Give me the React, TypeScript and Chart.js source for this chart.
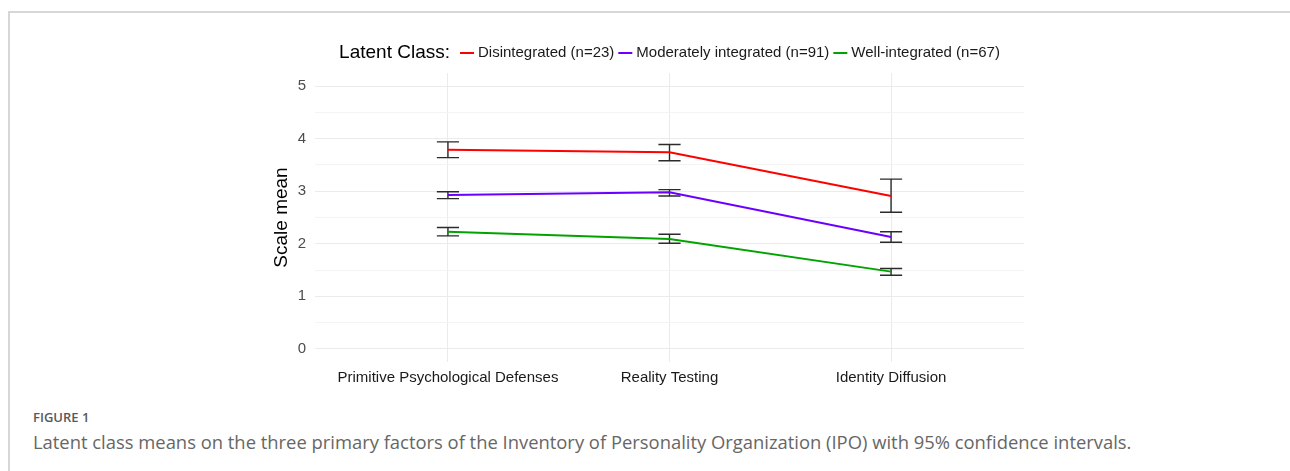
import React, { useEffect, useRef } from "react";
import { Chart, registerables } from "chart.js";

Chart.register(...registerables);

const CATEGORIES = ["Primitive Psychological Defenses", "Reality Testing", "Identity Diffusion"];
const SERIES_LABELS = ["Disintegrated (n=23)", "Moderately integrated (n=91)", "Well-integrated (n=67)"];
const SERIES_COLORS = ["#FF0000", "#6A00FF", "#00A300"];

const DISINTEGRATED_MEAN = [3.79, 3.74, 2.91];
const DISINTEGRATED_LOW = [3.64, 3.58, 2.6];
const DISINTEGRATED_HIGH = [3.94, 3.89, 3.23];

const MODERATE_MEAN = [2.93, 2.98, 2.13];
const MODERATE_LOW = [2.86, 2.91, 2.03];
const MODERATE_HIGH = [2.99, 3.03, 2.23];

const WELL_MEAN = [2.23, 2.09, 1.47];
const WELL_LOW = [2.15, 2.01, 1.4];
const WELL_HIGH = [2.31, 2.18, 1.53];

const Y_TICKS = [0, 0.5, 1, 1.5, 2, 2.5, 3, 3.5, 4, 4.5, 5];
const LEGEND_TITLE = "Latent Class:";
const Y_TITLE = "Scale mean";
const FIGURE_LABEL = "FIGURE 1";
const CAPTION =
  "Latent class means on the three primary factors of the Inventory of Personality Organization (IPO) with 95% confidence intervals.";

const FONT = '"Liberation Sans", Arial, Helvetica, sans-serif';

const MEANS = [DISINTEGRATED_MEAN, MODERATE_MEAN, WELL_MEAN];
const LOWS = [DISINTEGRATED_LOW, MODERATE_LOW, WELL_LOW];
const HIGHS = [DISINTEGRATED_HIGH, MODERATE_HIGH, WELL_HIGH];

const errorBarPlugin = {
  id: "errorBars",
  beforeDatasetsDraw(chart: any) {
    const { ctx, scales } = chart;
    const x = scales.x;
    const y = scales.y;
    ctx.save();
    ctx.strokeStyle = "#2b2b2b";
    ctx.lineWidth = 1.4;
    chart.data.datasets.forEach((ds: any) => {
      ds.errLow.forEach((lo: number, i: number) => {
        const hi = ds.errHigh[i];
        const cx = x.getPixelForValue(i + 1);
        const xl = x.getPixelForValue(i + 1 - 0.05);
        const xr = x.getPixelForValue(i + 1 + 0.05);
        const pLo = y.getPixelForValue(lo);
        const pHi = y.getPixelForValue(hi);
        ctx.beginPath();
        ctx.moveTo(cx, pLo);
        ctx.lineTo(cx, pHi);
        ctx.moveTo(xl, pLo);
        ctx.lineTo(xr, pLo);
        ctx.moveTo(xl, pHi);
        ctx.lineTo(xr, pHi);
        ctx.stroke();
      });
    });
    ctx.restore();
  },
};

const legendPlugin = {
  id: "topLegend",
  afterDraw(chart: any) {
    const { ctx, chartArea } = chart;
    const yc = 53;
    ctx.save();
    ctx.textBaseline = "middle";
    ctx.textAlign = "left";
    ctx.font = `19px ${FONT}`;
    const titleW = ctx.measureText(LEGEND_TITLE).width;
    ctx.font = `15px ${FONT}`;
    const widths = SERIES_LABELS.map((l) => ctx.measureText(l).width);
    const keyW = 14;
    const keyGap = 4;
    const itemGap = 4;
    const titleGap = 10;
    let total = titleW + titleGap;
    widths.forEach((w, i) => {
      total += keyW + keyGap + w + (i < widths.length - 1 ? itemGap : 0);
    });
    let xpos = (chartArea.left + chartArea.right) / 2 - total / 2;
    ctx.fillStyle = "#000";
    ctx.font = `19px ${FONT}`;
    ctx.fillText(LEGEND_TITLE, xpos, yc);
    xpos += titleW + titleGap;
    ctx.font = `15px ${FONT}`;
    SERIES_LABELS.forEach((label, i) => {
      ctx.strokeStyle = SERIES_COLORS[i];
      ctx.lineWidth = 2;
      ctx.beginPath();
      ctx.moveTo(xpos, yc);
      ctx.lineTo(xpos + keyW, yc);
      ctx.stroke();
      xpos += keyW + keyGap;
      ctx.fillStyle = "#1a1a1a";
      ctx.fillText(label, xpos, yc);
      xpos += widths[i] + itemGap;
    });
    ctx.restore();
  },
};

function ChartView() {
  const canvasRef = useRef<HTMLCanvasElement | null>(null);

  useEffect(() => {
    if (!canvasRef.current) return;
    const datasets = SERIES_LABELS.map((label, s) => ({
      label,
      data: MEANS[s].map((v, i) => ({ x: i + 1, y: v })),
      errLow: LOWS[s],
      errHigh: HIGHS[s],
      borderColor: SERIES_COLORS[s],
      backgroundColor: SERIES_COLORS[s],
      borderWidth: 2,
      pointRadius: 0,
      pointHoverRadius: 0,
      tension: 0,
      fill: false,
    }));

    const chart = new Chart(canvasRef.current, {
      type: "line",
      data: { datasets } as any,
      options: {
        animation: false,
        responsive: false,
        maintainAspectRatio: false,
        devicePixelRatio: 1,
        layout: { padding: { left: 255, right: 266, top: 73, bottom: 0 } },
        plugins: {
          legend: { display: false },
          tooltip: { enabled: false },
          title: { display: false },
        },
        scales: {
          x: {
            type: "linear",
            min: 0.4,
            max: 3.6,
            afterBuildTicks: (s: any) => {
              s.ticks = CATEGORIES.map((_, i) => ({ value: i + 1 }));
            },
            afterFit: (s: any) => {
              s.height = 38;
            },
            ticks: {
              callback: (v: any) => CATEGORIES[Math.round(v) - 1],
              font: { size: 15, family: FONT },
              color: "#1a1a1a",
              padding: 7,
              maxRotation: 0,
              autoSkip: false,
            },
            grid: { color: "#ebebeb", lineWidth: 1, drawTicks: false },
            border: { display: false },
          },
          y: {
            type: "linear",
            min: -0.25,
            max: 5.25,
            afterBuildTicks: (s: any) => {
              s.ticks = Y_TICKS.map((v) => ({ value: v }));
            },
            afterFit: (s: any) => {
              s.width = 60;
            },
            ticks: {
              callback: (v: any) => (Number.isInteger(v) ? String(v) : ""),
              font: { size: 15, family: FONT },
              color: "#4d4d4d",
              padding: 9,
              autoSkip: false,
            },
            grid: {
              color: (c: any) => (Number.isInteger(c.tick?.value) ? "#ebebeb" : "#f4f4f4"),
              lineWidth: 1,
              drawTicks: false,
            },
            border: { display: false },
            title: {
              display: true,
              text: Y_TITLE,
              font: { size: 19, family: FONT },
              color: "#000",
              padding: { top: 15, bottom: 0 },
            },
          },
        },
      } as any,
      plugins: [errorBarPlugin, legendPlugin],
    });
    return () => chart.destroy();
  }, []);

  return (
    <canvas
      ref={canvasRef}
      width={1290}
      height={400}
      style={{ position: "absolute", left: 0, top: 0, width: 1290, height: 400 }}
    />
  );
}

export default function App() {
  return (
    <div
      style={{
        position: "fixed",
        left: 0,
        top: 0,
        width: 1290,
        height: 471,
        background: "#fff",
        overflow: "hidden",
      }}
    >
      <div
        style={{
          position: "absolute",
          left: 8,
          top: 11,
          width: 1290,
          height: 480,
          borderTop: "2px solid #d6d6d6",
          borderLeft: "2px solid #d6d6d6",
        }}
      />
      <ChartView />
      <div
        style={{
          position: "absolute",
          left: 33,
          top: 408,
          font: '600 13px "Open Sans", sans-serif',
          color: "#595959",
        }}
      >
        {FIGURE_LABEL}
      </div>
      <div
        style={{
          position: "absolute",
          left: 33,
          top: 429,
          font: '18.4px "Open Sans", sans-serif',
          color: "#666",
          whiteSpace: "nowrap",
        }}
      >
        {CAPTION}
      </div>
    </div>
  );
}
